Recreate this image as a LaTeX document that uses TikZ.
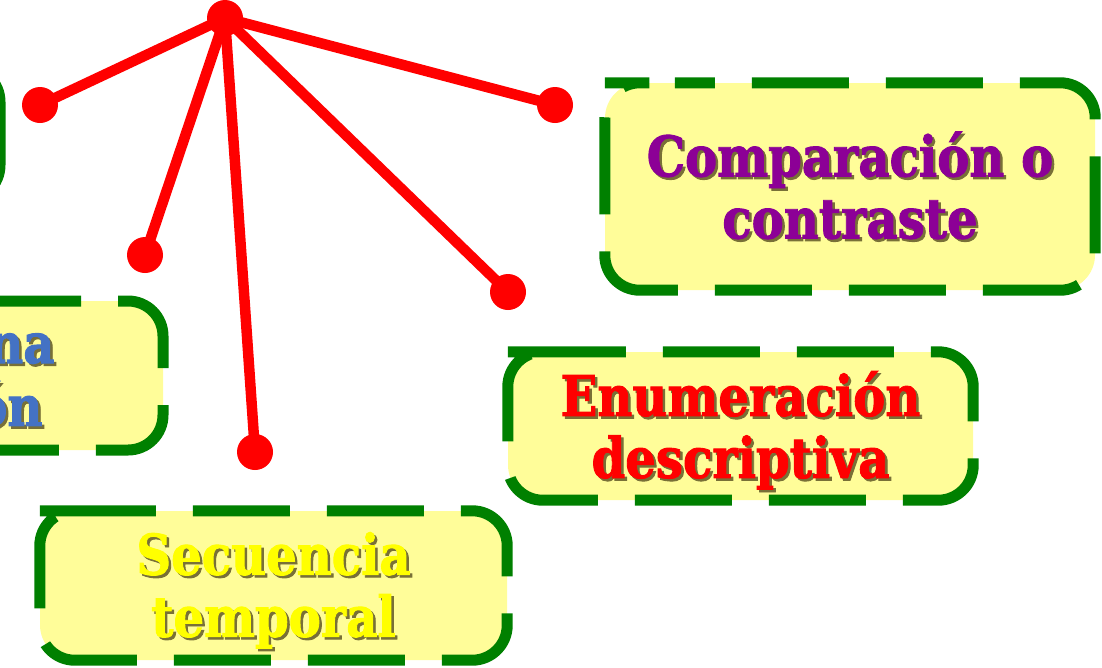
\documentclass[tikz,border=0pt]{standalone}
\usepackage{fontspec}
\setmainfont{DejaVu Serif}[BoldFeatures={FakeBold=1.6,FakeStretch=0.86}]
\usetikzlibrary{calc,backgrounds}
\definecolor{fondo}{RGB}{255,253,153}
\definecolor{verde}{RGB}{0,128,0}
\definecolor{morado}{RGB}{140,0,150}
\definecolor{azul}{RGB}{68,114,196}
\definecolor{amarillo}{RGB}{255,255,0}
\definecolor{sombra}{RGB}{120,112,55}
% texto con sombra, un poco mas abajo
\newcommand\conSombra[2]{\raisebox{-9pt}[\height][\depth]{%
  \makebox[0pt][l]{\hspace{2.5pt}\raisebox{-2.5pt}{\color{sombra}\begin{tabular}{@{}c@{}}#2\end{tabular}}}%
  {\color{#1}\begin{tabular}{@{}c@{}}#2\end{tabular}}}}
% borde de trazos alrededor de una caja, empezando arriba a la izquierda
\newcommand\borde[2]{\draw[borde, dash phase=#2]
  ($(#1.north west)+(35,0)$) -- (#1.north east) -- (#1.south east)
  -- (#1.south west) -- (#1.north west) -- cycle ;}
\tikzset{
  borde/.style={draw=verde, line width=11pt, rounded corners=35pt,
    dash pattern=on 97pt off 37pt},
  caja/.style={fill=fondo, rounded corners=35pt, inner sep=0pt},
  letra/.style={font=\fontsize{56}{62}\selectfont\bfseries},
  punto/.style={circle, fill=red, inner sep=0pt, minimum size=36pt},
  rayo/.style={draw=red, line width=10.5pt}
}
\begin{document}
\begin{tikzpicture}[x=1pt,y=-1pt]
  \useasboundingbox (0,0) rectangle (1102,667) ;
  \clip (0,0) rectangle (1102,667) ;

  % cajas cortadas por el borde
  \draw[borde, solid, fill=fondo] (-400,67) rectangle (0,200) ;
  \draw[borde, fill=fondo, dash phase=51pt]
    (0,301) -- (163,301) -- (163,450) -- (-250,450) -- (-250,301) -- cycle ;
  \node[letra, anchor=east] (pb1) at (58,343) {\conSombra{azul}{na}} ;
  \node[letra, anchor=east] (pb2) at (46,405) {\conSombra{azul}{ón}} ;

  \node[caja, letra, minimum width=490pt, minimum height=207pt] (comp) at (850,186.5)
    {\conSombra{morado}{Comparación o\\contraste}} ;
  \node[caja, letra, minimum width=465pt, minimum height=148pt] (enum) at (740.5,426)
    {\conSombra{red}{Enumeración\\descriptiva}} ;
  \node[caja, letra, minimum width=467pt, minimum height=149pt] (sec) at (273.5,585.5)
    {\conSombra{amarillo}{Secuencia\\temporal}} ;
  \borde{comp}{57pt}
  \borde{enum}{49pt}
  \borde{sec}{51pt}

  \node[punto] (hub) at (225,18) {} ;
  \node[punto] (p1) at (40,105) {} ;
  \node[punto] (p2) at (145,255) {} ;
  \node[punto] (p3) at (255,452) {} ;
  \node[punto] (p4) at (508,292) {} ;
  \node[punto] (p5) at (555,105) {} ;

  \begin{scope}[on background layer]
    \foreach \p in {p1,p2,p3,p4,p5}
      \draw[rayo] (hub.center) -- (\p.center) ;
  \end{scope}
\end{tikzpicture}
\end{document}
